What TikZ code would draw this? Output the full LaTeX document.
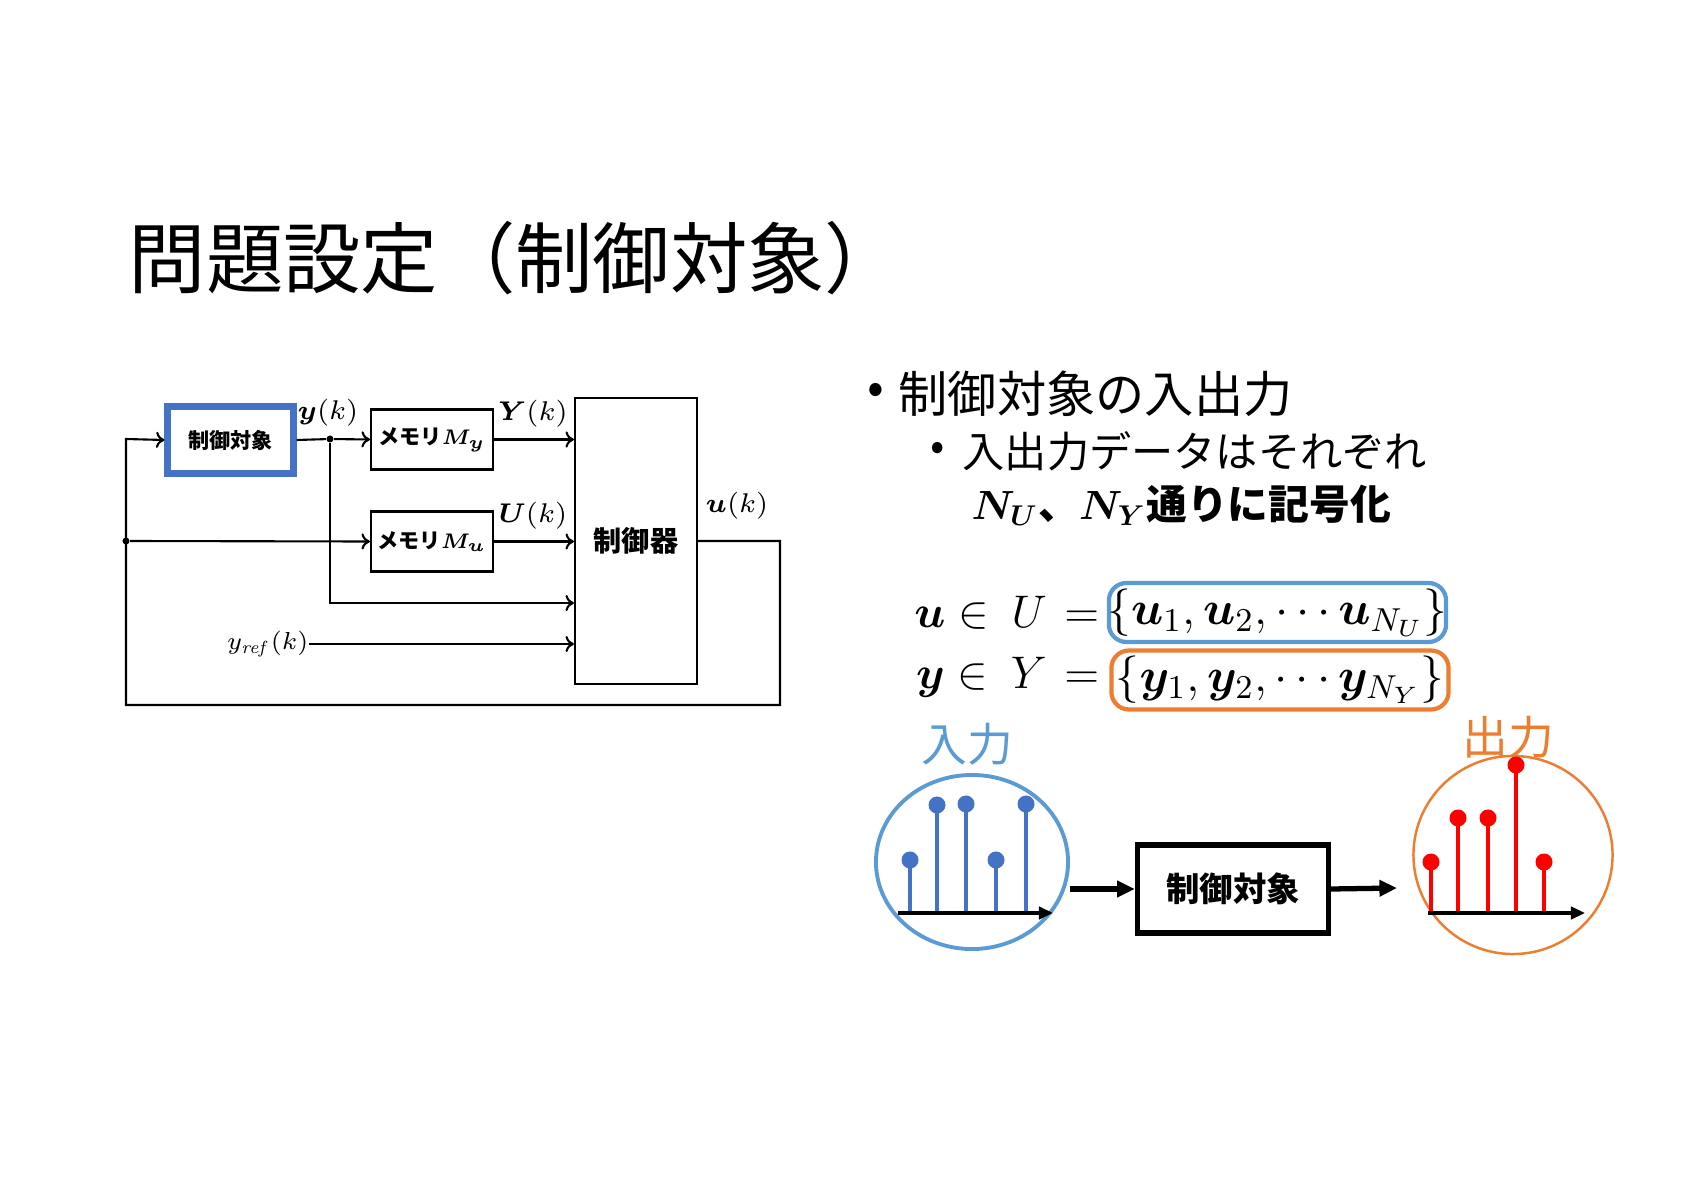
\RequirePackage{fix-cm}
\documentclass[tikz,border=0pt]{standalone}
\usepackage{amsmath,bm}
\usepackage[no-math]{fontspec}
\setmainfont{Noto Sans CJK JP}
\usetikzlibrary{positioning, arrows.meta, shapes.geometric, calc}
\definecolor{plantblue}{HTML}{4472C4}
\definecolor{inblue}{HTML}{5B9BD5}
\definecolor{outorange}{HTML}{ED7D31}
\definecolor{stemred}{HTML}{FF0000}

\begin{document}
\begin{tikzpicture}[
      x=0.01cm, y=-0.01cm,
      every node/.style={inner sep=0pt},
      blk/.style={draw, line width=0.6pt, minimum width=1.22cm, minimum height=0.6cm,
                  font=\fontsize{6}{7}\selectfont\bfseries},
      sig/.style={font=\fontsize{7.7}{9}\selectfont},
      wire/.style={line width=0.6pt},
      >={To[length=2.4pt,width=4.6pt]},
      junc/.style={circle, fill, minimum size=2pt},
      body/.style={anchor=west, font=\fontsize{14}{16}\selectfont},
      subbody/.style={anchor=west, font=\fontsize{12}{14}\selectfont},
      eqn/.style={font=\fontsize{13.5}{16}\selectfont},
      setbox/.style={draw, line width=1.2pt, rounded corners=5pt,
                     minimum width=3.37cm, minimum height=0.59cm},
      bigarrow/.style={line width=1.5pt, -{Triangle[length=5pt,width=4.5pt]}},
    ]
    \useasboundingbox (0,0) rectangle (1684,1191);

    % title
    \node[anchor=west, font=\fontsize{22}{26}\selectfont] (title) at (128,258) {問題設定（制御対象）};

    % block diagram
    \node[blk, draw=plantblue, line width=2pt, minimum width=1.25cm, minimum height=0.66cm]
      (plant) at (230.5,440) {制御対象};
    \node[blk] (memy) at (432,439.5) {メモリ$\bm{M_y}$};
    \node[blk] (memu) at (432,541.5) {メモリ$\bm{M_u}$};
    \node[blk, minimum width=1.22cm, minimum height=2.86cm, font=\fontsize{8}{9}\selectfont\bfseries]
      (ctrl) at (636,541) {制御器};
    \node[junc] (jy) at (330,439) {};
    \node[junc] (ju) at (126,541) {};
    \node[sig, anchor=east, font=\fontsize{7}{9}\selectfont] (yref) at (309,644) {$y_{\mathit{ref}}(k)$};
    \coordinate (fbr) at (780,541);
    \coordinate (fbb) at (780,705);
    \coordinate (fbl) at (126,705);
    \coordinate (fbt) at (126,439);
    \coordinate (ylow) at (330,603);

    \draw[wire] (plant.east) -- (jy);
    \draw[wire, ->] (jy) -- (memy.west);
    \draw[wire, ->] (memy.east) -- (ctrl.west |- memy.east);
    \draw[wire, ->] (memu.east) -- (ctrl.west |- memu.east);
    \draw[wire, ->] (ju) -- (memu.west);
    \draw[wire, ->] (jy) -- (ylow) -- (ctrl.west |- ylow);
    \draw[wire, ->] (yref.east) -- (ctrl.west |- yref.east);
    \draw[wire, ->] (ctrl.east) -- (fbr) -- (fbb) -- (fbl) -- (fbt) -- (plant.west);

    \node[sig] (lyk) at (328,413) {$\bm{y}(k)$};
    \node[sig] (lYk) at (533,414) {$\bm{Y}(k)$};
    \node[sig] (lUk) at (533,516) {$\bm{U}(k)$};
    \node[sig] (luk) at (737,506) {$\bm{u}(k)$};

    % bullets
    \node[font=\fontsize{14}{16}\selectfont] (dot1) at (876,394) {•};
    \node[body] (b1) at (898,394) {制御対象の入出力};
    \node[font=\fontsize{12}{14}\selectfont] (dot2) at (938,451) {•};
    \node[subbody] (b2) at (962,451) {入出力データはそれぞれ};
    \node[subbody, font=\fontsize{11.6}{14}\selectfont\bfseries] (b3) at (971,505)
      {$\bm{N}_{\bm{U}}$、$\bm{N}_{\bm{Y}}$通りに記号化};

    % sets
    \node[setbox, draw=inblue] (uset) at (1277.5,612.5) {};
    \node[eqn] (uvals) at (uset) {$\{\bm{u}_1,\bm{u}_2,\cdots\bm{u}_{N_U}\}$};
    \node[eqn, anchor=east, font=\fontsize{13}{16}\selectfont] (ulhs) at (1100,613)
      {$\bm{u}\mskip5mu{\in}\mskip9mu U\mskip7mu{=}$};
    \node[setbox, draw=outorange] (yset) at (1280,680) {};
    \node[eqn] (yvals) at (yset) {$\{\bm{y}_1,\bm{y}_2,\cdots\bm{y}_{N_Y}\}$};
    \node[eqn, anchor=east, font=\fontsize{13}{16}\selectfont] (ylhs) at (1100,677)
      {$\bm{y}\mskip5mu{\in}\mskip9mu Y\mskip7mu{=}$};

    % input / output sketch
    \node[font=\fontsize{13}{15}\selectfont, text=inblue] (inlab) at (967,744) {入力};
    \node[font=\fontsize{13}{15}\selectfont, text=outorange] (outlab) at (1508,737) {出力};
    \node[draw=inblue, line width=1.1pt, ellipse, minimum width=1.92cm, minimum height=1.74cm]
      (insig) at (972,862) {};
    \node[draw=outorange, line width=0.7pt, ellipse, minimum width=1.99cm, minimum height=1.98cm]
      (outsig) at (1513,855) {};
    \foreach \x/\h in {910/860, 937/805, 966/804, 996/860, 1026/804} {
      \draw[plantblue, line width=1.4pt] (\x,912) -- (\x,\h);
      \fill[plantblue] (\x,\h) circle[radius=0.085cm];
    }
    \foreach \x/\h in {1431/862, 1458/818, 1488/818, 1516/765, 1544/862} {
      \draw[stemred, line width=1.4pt] (\x,912) -- (\x,\h);
      \fill[stemred] (\x,\h) circle[radius=0.085cm];
    }
    \coordinate (inax0) at (898,913);
    \coordinate (inax1) at (1053,913);
    \coordinate (outax0) at (1428,913);
    \coordinate (outax1) at (1585,913);
    \draw[line width=1pt, -{Triangle[length=4pt,width=3.5pt]}] (inax0) -- (inax1);
    \draw[line width=1pt, -{Triangle[length=4pt,width=3.5pt]}] (outax0) -- (outax1);

    \node[draw, line width=1.5pt, minimum width=1.91cm, minimum height=0.88cm,
          font=\fontsize{9.5}{11}\selectfont\bfseries] (plant2) at (1233,889) {制御対象};
    \coordinate (outend) at (1397,888);
    \draw[bigarrow] (insig.east |- plant2.west) -- (plant2.west);
    \draw[bigarrow] (plant2.east) -- (outend);
  \end{tikzpicture}
\end{document}
